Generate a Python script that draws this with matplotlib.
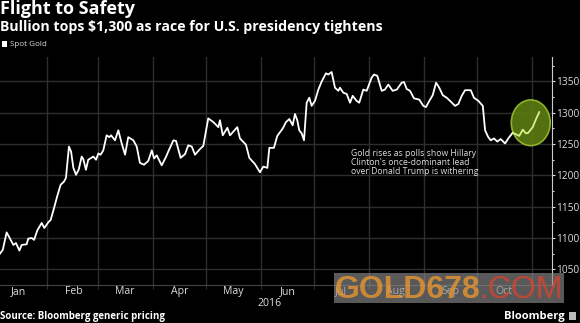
import numpy as np
import matplotlib
matplotlib.use("Agg")
import matplotlib.pyplot as plt
import matplotlib.dates as mdates
from matplotlib.patches import Ellipse, Rectangle

# day of year 2016 and spot gold price
days = [5.4, 7.0, 9.2, 11.1, 13.0, 14.5, 16.4, 17.7, 20.5, 21.4, 23.4, 24.7, 26.5,
        29.0, 30.5, 32.7, 34.1, 35.6, 37.8, 39.7, 41.6, 42.7, 44.4, 45.6, 46.9, 48.4,
        49.9, 51.6, 52.5, 54.0, 55.3, 58.2, 59.7, 61.0, 62.3, 63.8, 65.7, 67.2, 68.2,
        70.4, 72.3, 74.2, 76.1, 77.9, 80.8, 82.7, 84.5, 86.8, 89.2, 91.2, 92.5, 94.0,
        96.8, 99.3, 100.5, 103.4, 104.9, 107.5, 110.0, 111.8, 113.8, 115.6, 118.4,
        120.3, 123.1, 126.0, 128.8, 129.7, 131.3, 133.9, 135.4, 139.5, 141.0, 144.4,
        146.3, 149.5, 152.3, 154.2, 156.5, 157.6, 160.2, 162.1, 165.2, 167.0, 168.9,
        170.8, 172.1, 173.4, 174.5, 175.9, 177.2, 178.7, 180.2, 181.5, 183.4, 185.3,
        187.2, 189.6, 190.9, 192.8, 194.7, 196.6, 197.5, 199.4, 201.3, 203.2, 204.7,
        206.9, 208.4, 210.7, 212.6, 215.4, 216.7, 218.6, 221.1, 222.9, 224.8, 227.3,
        229.6, 232.4, 233.7, 235.2, 237.1, 239.3, 242.3, 244.6, 246.1, 248.0, 249.9,
        251.8, 253.6, 255.6, 257.8, 259.7, 262.5, 264.4, 266.3, 268.2, 271.4, 273.2,
        275.7, 278.2, 279.5, 281.3, 282.7, 284.5, 286.4, 288.3, 290.8, 292.6, 295.1,
        297.4, 298.8, 300.8, 302.6, 303.9, 306.4, 308.3, 310.1]
price = [1075, 1081, 1109, 1099, 1089, 1092, 1080, 1089, 1090, 1099, 1100, 1097, 1112,
         1124, 1116, 1125, 1129, 1144, 1167, 1185, 1190, 1196, 1246, 1238, 1212, 1201,
         1209, 1230, 1226, 1209, 1225, 1230, 1225, 1235, 1233, 1240, 1264, 1261, 1264,
         1256, 1272, 1251, 1233, 1261, 1256, 1246, 1220, 1217, 1223, 1240, 1227, 1232,
         1216, 1230, 1238, 1256, 1255, 1228, 1234, 1248, 1246, 1233, 1242, 1247, 1291,
         1285, 1277, 1288, 1264, 1276, 1264, 1277, 1259, 1249, 1228, 1218, 1205, 1214,
         1212, 1244, 1244, 1263, 1275, 1285, 1290, 1280, 1298, 1288, 1272, 1267, 1256,
         1316, 1324, 1311, 1319, 1337, 1350, 1363, 1361, 1365, 1340, 1335, 1340, 1332,
         1330, 1316, 1327, 1319, 1316, 1337, 1335, 1356, 1361, 1359, 1335, 1337, 1345,
         1335, 1337, 1348, 1349, 1338, 1335, 1323, 1321, 1311, 1309, 1319, 1328, 1348,
         1340, 1328, 1324, 1319, 1311, 1314, 1327, 1336, 1336, 1324, 1319, 1311, 1272,
         1261, 1256, 1259, 1254, 1258, 1251, 1259, 1268, 1265, 1263, 1273, 1267, 1268,
         1277, 1290, 1301]
highlight_from = 295.1  # start of the green (recent) stretch

yticks = [1050, 1100, 1150, 1200, 1250, 1300, 1350]
months = ['Jan', 'Feb', 'Mar', 'Apr', 'May', 'Jun', 'Jul', 'Aug', 'Sep', 'Oct']

title = 'Flight to Safety'
subtitle = 'Bullion tops $1,300 as race for U.S. presidency tightens'
note = "Gold rises as polls show Hillary\nClinton's once-dominant lead\nover Donald Trump is withering"

plt.rcParams['font.family'] = ['Open Sans', 'DejaVu Sans']

base = mdates.date2num(np.datetime64('2016-01-01')) - 1
x = base + np.array(days)
y = np.array(price)
d = np.array(days)

fig = plt.figure(figsize=(5.8, 3.23), dpi=100, facecolor='black')
ax = fig.add_axes([0, 1 - 285 / 323, 552 / 580, (285 - 57) / 323], facecolor='black')

grid_c = '#2e2e2e'
ax.set_xlim(base + 5.45, base + 317.3)
ax.set_ylim(1031, 1389)

# gridlines
ax.xaxis.set_major_locator(mdates.MonthLocator())
ax.xaxis.set_major_formatter(matplotlib.ticker.NullFormatter())
ax.set_xticks([mdates.date2num(np.datetime64('2016-%02d-16' % (i + 1))) for i in range(len(months))],
              months, minor=True)
ax.grid(axis='x', which='major', color=grid_c, lw=1)
ax.set_yticks(yticks)
ax.set_yticks(np.arange(1025, 1400, 25), minor=True)
ax.grid(axis='y', which='major', color=grid_c, lw=1)
ax.yaxis.tick_right()
ax.tick_params(axis='y', which='both', colors='#dddddd', labelsize=7.3, pad=0.5,
               direction='out', length=2.5, width=0.8)
ax.tick_params(axis='y', which='minor', length=1.5)
ax.tick_params(axis='x', which='major', length=3, color=grid_c, labelbottom=False)
ax.tick_params(axis='x', which='minor', length=0, labelsize=7.6, labelcolor='#dddddd', pad=1)

for s in ['top', 'left']:
    ax.spines[s].set_visible(False)
ax.spines['right'].set_color('#cccccc')
ax.spines['right'].set_linewidth(0.8)
ax.spines['bottom'].set_color('#444444')

# series
ax.plot(x[d <= highlight_from], y[d <= highlight_from], color='white', lw=1.3,
        solid_joinstyle='round', zorder=3)
ax.plot(x[d >= highlight_from], y[d >= highlight_from], color='#d8f08a', lw=1.3, zorder=5)

ell = Ellipse((base + 305.3, 1284), 22, 73, facecolor='#5d7d12', edgecolor='#9cbc2c',
              lw=1.2, alpha=0.9, zorder=4)
ax.add_patch(ell)

ax.text(base + 203.8, 1242.5, note, color='#dddddd', fontsize=6.2, va='top', ha='left',
        linespacing=1.05)

ax.text(mdates.date2num(np.datetime64('2016-06-06')), -0.055, '2016',
        transform=ax.get_xaxis_transform(), color='#dddddd', fontsize=7.6, ha='center', va='top')

# titles
fig.text(0.0, 1 - 9.5 / 323, title, color='white', fontsize=13, fontweight='bold', va='center')
fig.text(0.0, 1 - 26.5 / 323, subtitle, color='white', fontsize=10.2, fontweight='bold', va='center')
fig.patches.append(Rectangle((2 / 580, 1 - 47 / 323), 5 / 580, 6 / 323, transform=fig.transFigure,
                             facecolor='white', edgecolor='none'))
fig.text(10 / 580, 1 - 44.5 / 323, 'Spot Gold', color='#dddddd', fontsize=5.8, va='center')

# footer
fig.text(0.0, 1 - 317 / 323, 'Source: Bloomberg generic pricing', color='white', fontsize=7,
         fontweight='bold', va='center')
fig.text(565 / 580, 1 - 316 / 323, 'Bloomberg', color='white', fontsize=8, fontweight='bold',
         va='center', ha='right')
fig.patches.append(Rectangle((569 / 580, 1 - 320 / 323), 7 / 580, 8 / 323, transform=fig.transFigure,
                             facecolor='#bbbbbb', edgecolor='none'))

# site watermark (semi-transparent, month labels show through)
fig.patches.append(Rectangle((334 / 580, 1 - 303 / 323), 230 / 580, 30 / 323, transform=fig.transFigure,
                             facecolor='#8a8a8a', edgecolor='none', alpha=0.65, zorder=10))
fig.text(335 / 580, 1 - 290 / 323, 'GOLD678', color='#f29a2e', fontsize=23, va='center',
         ha='left', family='Liberation Sans', fontweight='bold', alpha=0.75, zorder=11)
fig.text(563 / 580, 1 - 290 / 323, '.COM', color='#e3412b', fontsize=23, va='center',
         ha='right', family='Liberation Sans', alpha=0.75, zorder=11)

fig.savefig('out.png', dpi=100, facecolor='black')
